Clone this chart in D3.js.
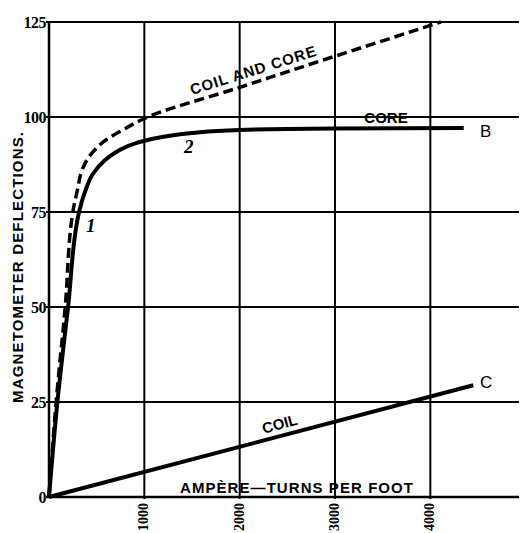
<!DOCTYPE html>
<html>
<head>
<meta charset="utf-8">
<script src="https://cdn.jsdelivr.net/npm/d3@7"></script>
<style>
  body { margin: 0; background: #fff; }
  svg { display: block; }
</style>
</head>
<body>
<div id="chart"></div>
<script>
// ampere-turns per foot vs magnetometer deflections
var xTicks = [1000, 2000, 3000, 4000];
var yTicks = [0, 25, 50, 75, 100, 125];

// curve B, core alone
var coreX = [0, 88, 200, 315, 380, 460, 580, 720, 920, 1200, 1500, 2000, 3000, 4350];
var coreY = [0, 25, 50, 75, 80.5, 85, 88.5, 91, 93.2, 94.8, 95.8, 96.6, 96.95, 97.1];

// coil and core (dashed)
var bothX = [0, 75, 170, 250, 300, 346, 450, 600, 766, 1000, 2000, 3000, 4000, 4110];
var bothY = [0, 25, 50, 75, 81, 86, 90.5, 94, 96.5, 99.6, 107.8, 116, 124.1, 125];

// curve C, coil alone
var coilX = [0, 4450];
var coilY = [0, 29.4];

var width = 521, height = 533;
var svg = d3.select("#chart").append("svg")
    .attr("width", width)
    .attr("height", height);

var x = d3.scaleLinear().domain([0, 4930]).range([49, 519]);
var y = d3.scaleLinear().domain([0, 125]).range([497, 22]);

var serif = "'Liberation Serif', 'DejaVu Serif', serif";
var sans = "'Liberation Sans', Arial, sans-serif";

// grid
svg.selectAll(".hgrid")
    .data(yTicks)
    .enter().append("line")
    .attr("x1", x(0) - 3)
    .attr("x2", x.range()[1])
    .attr("y1", function (d) { return y(d); })
    .attr("y2", function (d) { return y(d); })
    .attr("stroke", "#000")
    .attr("stroke-width", function (d) { return d === 0 ? 2.5 : 2; });

svg.selectAll(".vgrid")
    .data(xTicks)
    .enter().append("line")
    .attr("x1", function (d) { return x(d); })
    .attr("x2", function (d) { return x(d); })
    .attr("y1", y(125))
    .attr("y2", y(0) + 2)
    .attr("stroke", "#000")
    .attr("stroke-width", 2);

// left axis
svg.append("line")
    .attr("x1", x(0)).attr("x2", x(0))
    .attr("y1", y(125)).attr("y2", y(0))
    .attr("stroke", "#000")
    .attr("stroke-width", 2.5);

// tick labels
svg.selectAll(".ylab")
    .data(yTicks)
    .enter().append("text")
    .attr("x", x(0) - 3)
    .attr("y", function (d) { return y(d); })
    .attr("dy", "0.35em")
    .attr("text-anchor", "end")
    .attr("font-family", serif)
    .attr("font-weight", "bold")
    .attr("font-size", 16)
    .attr("letter-spacing", -0.5)
    .text(function (d) { return d; });

svg.selectAll(".xlab")
    .data(xTicks)
    .enter().append("text")
    .attr("transform", function (d) {
        return "translate(" + (x(d) + 4) + "," + (y(0) + 6) + ") rotate(-90)";
    })
    .attr("text-anchor", "end")
    .attr("font-family", serif)
    .attr("font-weight", "bold")
    .attr("font-size", 14)
    .text(function (d) { return d; });

// curves
function series(xs, ys) {
    return xs.map(function (v, i) { return [v, ys[i]]; });
}

var line = d3.line()
    .x(function (d) { return x(d[0]); })
    .y(function (d) { return y(d[1]); })
    .curve(d3.curveMonotoneY);

svg.append("path")
    .datum(series(bothX, bothY))
    .attr("d", line)
    .attr("fill", "none")
    .attr("stroke", "#000")
    .attr("stroke-width", 3.5)
    .attr("stroke-dasharray", "10,5");

svg.append("path")
    .datum(series(coreX, coreY))
    .attr("d", line)
    .attr("fill", "none")
    .attr("stroke", "#000")
    .attr("stroke-width", 4);

svg.append("path")
    .datum(series(coilX, coilY))
    .attr("d", line.curve(d3.curveLinear))
    .attr("fill", "none")
    .attr("stroke", "#000")
    .attr("stroke-width", 4);

// axis titles
svg.append("text")
    .attr("transform", "translate(23,403) rotate(-90)")
    .attr("font-family", sans)
    .attr("font-weight", "bold")
    .attr("font-size", 15)
    .attr("textLength", 271)
    .text("MAGNETOMETER DEFLECTIONS.");

svg.append("text")
    .attr("x", 180)
    .attr("y", 493)
    .attr("font-family", sans)
    .attr("font-weight", "bold")
    .attr("font-size", 15)
    .attr("textLength", 233)
    .text("AMPÈRE—TURNS PER FOOT");

// curve labels
svg.append("text")
    .attr("transform", "translate(192,95) rotate(-17.5)")
    .attr("font-family", sans)
    .attr("font-weight", "bold")
    .attr("font-size", 15)
    .attr("textLength", 131)
    .text("COIL AND CORE");

svg.append("text")
    .attr("x", 386)
    .attr("y", 123)
    .attr("text-anchor", "middle")
    .attr("font-family", sans)
    .attr("font-weight", "bold")
    .attr("font-size", 15)
    .text("CORE");

svg.append("text")
    .attr("transform", "translate(281,429) rotate(-15)")
    .attr("text-anchor", "middle")
    .attr("font-family", sans)
    .attr("font-weight", "bold")
    .attr("font-size", 15)
    .text("COIL");

svg.append("text")
    .attr("x", 480).attr("y", 137)
    .attr("font-family", sans)
    .attr("font-size", 17)
    .text("B");

svg.append("text")
    .attr("x", 480).attr("y", 388)
    .attr("font-family", sans)
    .attr("font-size", 17)
    .text("C");

svg.append("text")
    .attr("x", 86).attr("y", 232)
    .attr("font-family", serif)
    .attr("font-style", "italic")
    .attr("font-weight", "bold")
    .attr("font-size", 19)
    .text("1");

svg.append("text")
    .attr("x", 184).attr("y", 153)
    .attr("font-family", serif)
    .attr("font-style", "italic")
    .attr("font-weight", "bold")
    .attr("font-size", 19)
    .text("2");
</script>
</body>
</html>
